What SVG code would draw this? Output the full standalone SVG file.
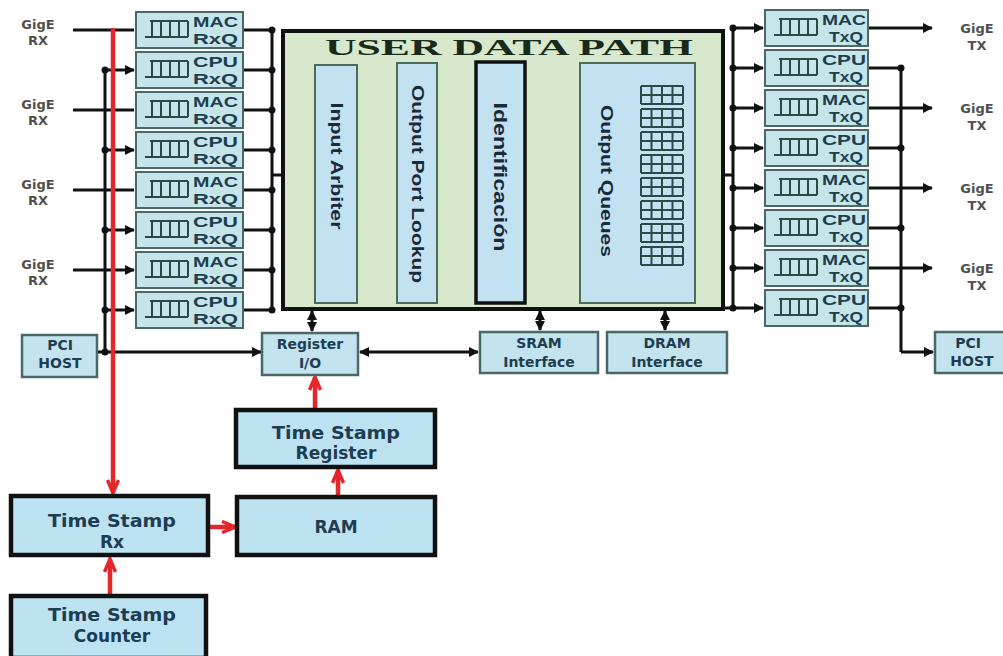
<svg xmlns="http://www.w3.org/2000/svg" xmlns:xlink="http://www.w3.org/1999/xlink" width="1003" height="656" viewBox="0 0 1003 656">
<style>
.q{fill:#c6e5ea;stroke:#4b6868;stroke-width:2}
.bx{fill:#c3e3ee;stroke:#4b6868;stroke-width:2.5}
.ts{fill:#bde2f2;stroke:#111;stroke-width:4.5}
.in{fill:#c2e2f2;stroke:#4d6a5a;stroke-width:2}
.t{font-family:"DejaVu Sans",sans-serif;font-weight:bold;fill:#1d3d52}
.g{font-family:"DejaVu Sans",sans-serif;font-weight:bold;fill:#505050;font-size:13px}
.ql{font-family:"Liberation Sans",sans-serif;font-weight:bold;fill:#1d4050;font-size:14px}
.v{font-family:"Liberation Sans",sans-serif;font-weight:bold;fill:#1a2a3a}
.k{stroke:#111;stroke-width:3;fill:none}
.r{stroke:#e5262b;stroke-width:4.5;fill:none}
.ic{stroke:#2a4a48;stroke-width:2;fill:none}
</style>
<defs>
<marker id="ah" viewBox="0 0 10 10" refX="9" refY="5" markerWidth="12" markerHeight="10" markerUnits="userSpaceOnUse" orient="auto-start-reverse"><path d="M0,0 L10,5 L0,10 z" fill="#111"/></marker>
<marker id="rh" viewBox="0 0 20 12" refX="17" refY="6" markerWidth="20" markerHeight="14" markerUnits="userSpaceOnUse" orient="auto"><path d="M4,0.5 L17,6 L4,11.5" fill="none" stroke="#e5262b" stroke-width="3.5"/></marker>
<g id="qi"><path class="ic" d="M-5,16 H38 M0,0 H38 M2,0 V16 M11,0 V16 M20,0 V16 M29,0 V16 M38,0 V16"/></g>
<g id="oq"><path class="ic" stroke-width="1.6" d="M0,0 H42 M0,9 H42 M0,18 H42 M0,0 V18 M10.5,0 V18 M21,0 V18 M31.5,0 V18 M42,0 V18"/></g>
</defs>
<rect width="1003" height="656" fill="#fff"/>

<g id="connectors">
<path class="k" d="M73,30 H134 M73,110 H134 M73,190 H134 M73,270 H134" marker-end="url(#ah)"/>
<path class="k" d="M105,70 H134" marker-end="url(#ah)"/>
<path class="k" d="M105,150 H134" marker-end="url(#ah)"/>
<path class="k" d="M105,230 H134" marker-end="url(#ah)"/>
<path class="k" d="M105,310 H134" marker-end="url(#ah)"/>
<path class="k" d="M105,70 V352"/>
<path class="k" d="M97,352 H261" marker-end="url(#ah)"/>
<path class="k" d="M243,30 H272 M243,70 H272 M243,110 H272 M243,150 H272 M243,190 H272 M243,230 H272 M243,270 H272 M243,310 H272 M272,29 V311"/>
<path class="k" d="M272,175 H313" marker-end="url(#ah)"/>
<path class="k" d="M357,175 H395" marker-end="url(#ah)"/>
<path class="k" d="M437,175 H473" marker-end="url(#ah)"/>
<path class="k" d="M525,175 H578" marker-end="url(#ah)"/>
<path class="k" d="M695,175 H733"/>
<path class="k" d="M733,26 V310"/>
<path class="k" d="M733,28 H763" marker-end="url(#ah)"/>
<path class="k" d="M733,68 H763" marker-end="url(#ah)"/>
<path class="k" d="M733,108 H763" marker-end="url(#ah)"/>
<path class="k" d="M733,148 H763" marker-end="url(#ah)"/>
<path class="k" d="M733,188 H763" marker-end="url(#ah)"/>
<path class="k" d="M733,228 H763" marker-end="url(#ah)"/>
<path class="k" d="M733,268 H763" marker-end="url(#ah)"/>
<path class="k" d="M723,308 H763" marker-end="url(#ah)"/>
<path class="k" d="M868,28 H932" marker-end="url(#ah)"/>
<path class="k" d="M868,108 H932" marker-end="url(#ah)"/>
<path class="k" d="M868,188 H932" marker-end="url(#ah)"/>
<path class="k" d="M868,268 H932" marker-end="url(#ah)"/>
<path class="k" d="M868,68 H901 M868,148 H901 M868,228 H901 M868,308 H901 M901,68 V352"/>
<path class="k" d="M901,352 H933" marker-end="url(#ah)"/>
<path class="k" d="M312,311 V331" marker-start="url(#ah)" marker-end="url(#ah)"/>
<path class="k" d="M540,311 V330" marker-start="url(#ah)" marker-end="url(#ah)"/>
<path class="k" d="M665,311 V330" marker-start="url(#ah)" marker-end="url(#ah)"/>
<path class="k" d="M360,352 H478" marker-start="url(#ah)" marker-end="url(#ah)"/>
<g fill="#111">
<circle cx="105" cy="70" r="3.5"/><circle cx="105" cy="150" r="3.5"/><circle cx="105" cy="230" r="3.5"/><circle cx="105" cy="310" r="3.5"/><circle cx="105" cy="352" r="3.5"/>
<circle cx="272" cy="30" r="3.5"/><circle cx="272" cy="70" r="3.5"/><circle cx="272" cy="110" r="3.5"/><circle cx="272" cy="150" r="3.5"/><circle cx="272" cy="190" r="3.5"/><circle cx="272" cy="230" r="3.5"/><circle cx="272" cy="270" r="3.5"/><circle cx="272" cy="310" r="3.5"/>
<circle cx="733" cy="28" r="3.5"/><circle cx="733" cy="68" r="3.5"/><circle cx="733" cy="108" r="3.5"/><circle cx="733" cy="148" r="3.5"/><circle cx="733" cy="188" r="3.5"/><circle cx="733" cy="228" r="3.5"/><circle cx="733" cy="268" r="3.5"/><circle cx="733" cy="308" r="3.5"/>
<circle cx="901" cy="68" r="3.5"/><circle cx="901" cy="148" r="3.5"/><circle cx="901" cy="228" r="3.5"/><circle cx="901" cy="308" r="3.5"/>
</g>
<path class="r" d="M113,28 V493" marker-end="url(#rh)"/>
<path class="r" d="M110,595 V559" marker-end="url(#rh)"/>
<path class="r" d="M208,527 H235" marker-end="url(#rh)"/>
<path class="r" d="M338,497 V470" marker-end="url(#rh)"/>
<path class="r" d="M315,410 V377" marker-end="url(#rh)"/>
</g>

<g id="rx-labels" text-anchor="middle">
<text class="g" x="38" y="29">GigE</text><text class="g" x="38" y="45">RX</text>
<text class="g" x="38" y="109">GigE</text><text class="g" x="38" y="125">RX</text>
<text class="g" x="38" y="189">GigE</text><text class="g" x="38" y="205">RX</text>
<text class="g" x="38" y="269">GigE</text><text class="g" x="38" y="285">RX</text>
</g>
<g id="tx-labels" text-anchor="middle">
<text class="g" x="977" y="33">GigE</text><text class="g" x="977" y="50">TX</text>
<text class="g" x="977" y="113">GigE</text><text class="g" x="977" y="130">TX</text>
<text class="g" x="977" y="193">GigE</text><text class="g" x="977" y="210">TX</text>
<text class="g" x="977" y="273">GigE</text><text class="g" x="977" y="290">TX</text>
</g>

<g id="rxq1"><rect class="q" x="136" y="12" width="107" height="36"/><use xlink:href="#qi" x="150" y="21"/><text class="ql" x="193" y="27" textLength="45" lengthAdjust="spacingAndGlyphs">MAC</text><text class="ql" x="193" y="44" textLength="45" lengthAdjust="spacingAndGlyphs">RxQ</text></g>
<g id="rxq2"><rect class="q" x="136" y="52" width="107" height="36"/><use xlink:href="#qi" x="150" y="61"/><text class="ql" x="193" y="67" textLength="45" lengthAdjust="spacingAndGlyphs">CPU</text><text class="ql" x="193" y="84" textLength="45" lengthAdjust="spacingAndGlyphs">RxQ</text></g>
<g id="rxq3"><rect class="q" x="136" y="92" width="107" height="36"/><use xlink:href="#qi" x="150" y="101"/><text class="ql" x="193" y="107" textLength="45" lengthAdjust="spacingAndGlyphs">MAC</text><text class="ql" x="193" y="124" textLength="45" lengthAdjust="spacingAndGlyphs">RxQ</text></g>
<g id="rxq4"><rect class="q" x="136" y="132" width="107" height="36"/><use xlink:href="#qi" x="150" y="141"/><text class="ql" x="193" y="147" textLength="45" lengthAdjust="spacingAndGlyphs">CPU</text><text class="ql" x="193" y="164" textLength="45" lengthAdjust="spacingAndGlyphs">RxQ</text></g>
<g id="rxq5"><rect class="q" x="136" y="172" width="107" height="36"/><use xlink:href="#qi" x="150" y="181"/><text class="ql" x="193" y="187" textLength="45" lengthAdjust="spacingAndGlyphs">MAC</text><text class="ql" x="193" y="204" textLength="45" lengthAdjust="spacingAndGlyphs">RxQ</text></g>
<g id="rxq6"><rect class="q" x="136" y="212" width="107" height="36"/><use xlink:href="#qi" x="150" y="221"/><text class="ql" x="193" y="227" textLength="45" lengthAdjust="spacingAndGlyphs">CPU</text><text class="ql" x="193" y="244" textLength="45" lengthAdjust="spacingAndGlyphs">RxQ</text></g>
<g id="rxq7"><rect class="q" x="136" y="252" width="107" height="36"/><use xlink:href="#qi" x="150" y="261"/><text class="ql" x="193" y="267" textLength="45" lengthAdjust="spacingAndGlyphs">MAC</text><text class="ql" x="193" y="284" textLength="45" lengthAdjust="spacingAndGlyphs">RxQ</text></g>
<g id="rxq8"><rect class="q" x="136" y="292" width="107" height="36"/><use xlink:href="#qi" x="150" y="301"/><text class="ql" x="193" y="307" textLength="45" lengthAdjust="spacingAndGlyphs">CPU</text><text class="ql" x="193" y="324" textLength="45" lengthAdjust="spacingAndGlyphs">RxQ</text></g>

<g id="txq1"><rect class="q" x="765" y="10" width="103" height="36"/><use xlink:href="#qi" x="779" y="19"/><text class="ql" x="822" y="25" textLength="44" lengthAdjust="spacingAndGlyphs">MAC</text><text class="ql" x="829" y="42" textLength="34" lengthAdjust="spacingAndGlyphs">TxQ</text></g>
<g id="txq2"><rect class="q" x="765" y="50" width="103" height="36"/><use xlink:href="#qi" x="779" y="59"/><text class="ql" x="822" y="65" textLength="44" lengthAdjust="spacingAndGlyphs">CPU</text><text class="ql" x="829" y="82" textLength="34" lengthAdjust="spacingAndGlyphs">TxQ</text></g>
<g id="txq3"><rect class="q" x="765" y="90" width="103" height="36"/><use xlink:href="#qi" x="779" y="99"/><text class="ql" x="822" y="105" textLength="44" lengthAdjust="spacingAndGlyphs">MAC</text><text class="ql" x="829" y="122" textLength="34" lengthAdjust="spacingAndGlyphs">TxQ</text></g>
<g id="txq4"><rect class="q" x="765" y="130" width="103" height="36"/><use xlink:href="#qi" x="779" y="139"/><text class="ql" x="822" y="145" textLength="44" lengthAdjust="spacingAndGlyphs">CPU</text><text class="ql" x="829" y="162" textLength="34" lengthAdjust="spacingAndGlyphs">TxQ</text></g>
<g id="txq5"><rect class="q" x="765" y="170" width="103" height="36"/><use xlink:href="#qi" x="779" y="179"/><text class="ql" x="822" y="185" textLength="44" lengthAdjust="spacingAndGlyphs">MAC</text><text class="ql" x="829" y="202" textLength="34" lengthAdjust="spacingAndGlyphs">TxQ</text></g>
<g id="txq6"><rect class="q" x="765" y="210" width="103" height="36"/><use xlink:href="#qi" x="779" y="219"/><text class="ql" x="822" y="225" textLength="44" lengthAdjust="spacingAndGlyphs">CPU</text><text class="ql" x="829" y="242" textLength="34" lengthAdjust="spacingAndGlyphs">TxQ</text></g>
<g id="txq7"><rect class="q" x="765" y="250" width="103" height="36"/><use xlink:href="#qi" x="779" y="259"/><text class="ql" x="822" y="265" textLength="44" lengthAdjust="spacingAndGlyphs">MAC</text><text class="ql" x="829" y="282" textLength="34" lengthAdjust="spacingAndGlyphs">TxQ</text></g>
<g id="txq8"><rect class="q" x="765" y="290" width="103" height="36"/><use xlink:href="#qi" x="779" y="299"/><text class="ql" x="822" y="305" textLength="44" lengthAdjust="spacingAndGlyphs">CPU</text><text class="ql" x="829" y="322" textLength="34" lengthAdjust="spacingAndGlyphs">TxQ</text></g>

<g id="udp">
<rect x="283" y="31" width="440" height="278" fill="#d7e8cc" stroke="#111" stroke-width="4"/>
<text x="509" y="55" text-anchor="middle" font-family="Liberation Serif,serif" font-weight="bold" font-size="24" fill="#1a2a1a" textLength="368" lengthAdjust="spacingAndGlyphs">USER DATA PATH</text>
</g>
<g id="input-arbiter"><rect class="in" x="315" y="65" width="42" height="238"/><text class="v" font-size="16" text-anchor="middle" dominant-baseline="central" transform="translate(336,166) rotate(90)" textLength="127" lengthAdjust="spacingAndGlyphs">Input Arbiter</text></g>
<g id="output-port-lookup"><rect class="in" x="397" y="63" width="40" height="240"/><text class="v" font-size="16" text-anchor="middle" dominant-baseline="central" transform="translate(417,184) rotate(90)" textLength="198" lengthAdjust="spacingAndGlyphs">Output Port Lookup</text></g>
<g id="identificacion"><rect x="476" y="62" width="49" height="241" fill="#c2e2f2" stroke="#111" stroke-width="3.5"/><text class="v" font-size="19" text-anchor="middle" dominant-baseline="central" transform="translate(500,177) rotate(90)" textLength="149" lengthAdjust="spacingAndGlyphs">Identificación</text></g>
<g id="output-queues"><rect class="in" x="580" y="63" width="115" height="240"/><text class="v" font-size="17" text-anchor="middle" dominant-baseline="central" transform="translate(606,181) rotate(90)" textLength="152" lengthAdjust="spacingAndGlyphs">Output Queues</text>
<use xlink:href="#oq" x="641" y="86"/><use xlink:href="#oq" x="641" y="109"/><use xlink:href="#oq" x="641" y="132"/><use xlink:href="#oq" x="641" y="155"/><use xlink:href="#oq" x="641" y="178"/><use xlink:href="#oq" x="641" y="201"/><use xlink:href="#oq" x="641" y="224"/><use xlink:href="#oq" x="641" y="247"/>
</g>

<g id="pci-host-left"><rect class="bx" x="22" y="335" width="75" height="42"/><text class="t" font-size="14" x="60" y="350" text-anchor="middle">PCI</text><text class="t" font-size="14" x="60" y="368" text-anchor="middle">HOST</text></g>
<g id="pci-host-right"><rect class="bx" x="935" y="332" width="80" height="41"/><text class="t" font-size="14" x="968" y="348" text-anchor="middle">PCI</text><text class="t" font-size="14" x="972" y="366" text-anchor="middle">HOST</text></g>
<g id="register-io"><rect class="bx" x="262" y="333" width="96" height="42"/><text class="t" font-size="14" x="310" y="349" text-anchor="middle">Register</text><text class="t" font-size="14" x="310" y="368" text-anchor="middle">I/O</text></g>
<g id="sram"><rect class="bx" x="480" y="332" width="118" height="41"/><text class="t" font-size="14" x="539" y="348" text-anchor="middle">SRAM</text><text class="t" font-size="14" x="539" y="367" text-anchor="middle">Interface</text></g>
<g id="dram"><rect class="bx" x="607" y="332" width="120" height="41"/><text class="t" font-size="14" x="667" y="348" text-anchor="middle">DRAM</text><text class="t" font-size="14" x="667" y="367" text-anchor="middle">Interface</text></g>

<g id="ts-register"><rect class="ts" x="236" y="410" width="199" height="57"/><text class="t" font-size="17" x="336" y="439" text-anchor="middle" textLength="128" lengthAdjust="spacingAndGlyphs">Time Stamp</text><text class="t" font-size="17" x="336" y="459" text-anchor="middle">Register</text></g>
<g id="ram"><rect class="ts" x="237" y="497" width="198" height="58"/><text class="t" font-size="17" x="336" y="533" text-anchor="middle">RAM</text></g>
<g id="ts-rx"><rect class="ts" x="11" y="496" width="197" height="59"/><text class="t" font-size="17" x="112" y="527" text-anchor="middle" textLength="128" lengthAdjust="spacingAndGlyphs">Time Stamp</text><text class="t" font-size="17" x="112" y="548" text-anchor="middle">Rx</text></g>
<g id="ts-counter"><rect class="ts" x="11" y="596" width="195" height="62"/><text class="t" font-size="17" x="112" y="621" text-anchor="middle" textLength="128" lengthAdjust="spacingAndGlyphs">Time Stamp</text><text class="t" font-size="17" x="112" y="642" text-anchor="middle">Counter</text></g>
</svg>
